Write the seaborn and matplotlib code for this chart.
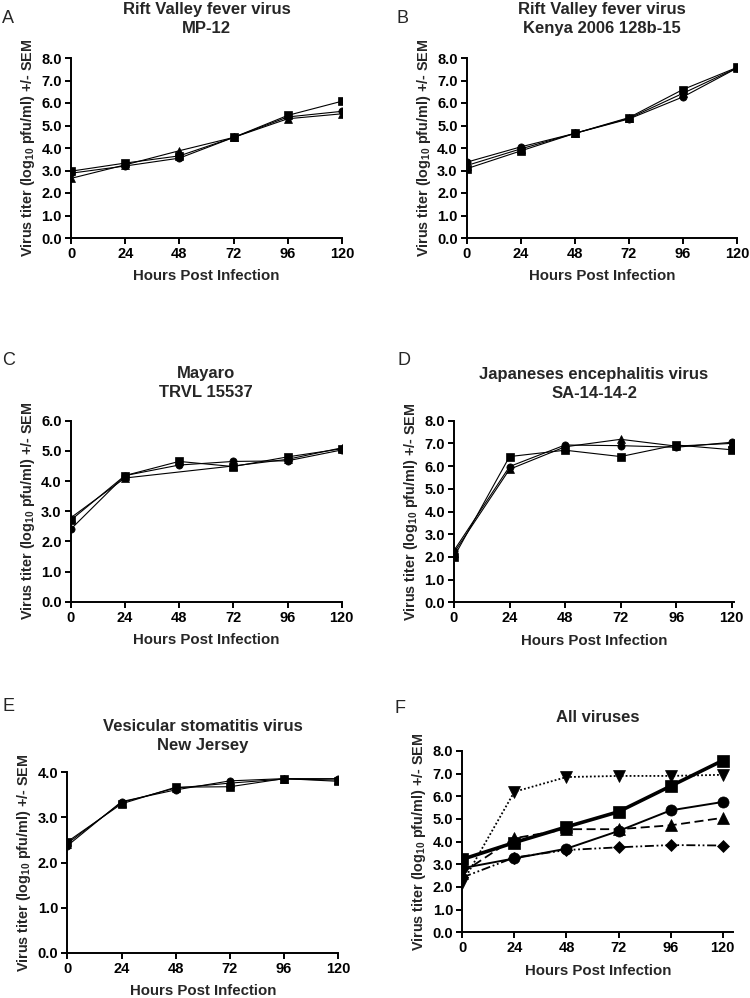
import numpy as np
import pandas as pd
import matplotlib
matplotlib.use("Agg")
import matplotlib.pyplot as plt
import seaborn as sns

hours = [0, 24, 48, 72, 96, 120]

# A - RVFV MP-12 (three replicate lines)
mp12_circle = [2.88, 3.20, 3.55, 4.47, 5.38, 5.63]
mp12_square = [2.97, 3.33, 3.65, 4.47, 5.45, 6.08]
mp12_triangle = [2.65, 3.25, 3.88, 4.47, 5.30, 5.52]

# B - RVFV Kenya 2006 128b-15
kenya_circle = [3.37, 4.05, 4.65, 5.29, 6.27, 7.55]
kenya_square = [3.08, 3.87, 4.65, 5.35, 6.60, 7.58]
kenya_triangle = [3.22, 3.96, 4.65, 5.32, 6.43, 7.56]

# C - Mayaro TRVL 15537 (triangle has no 48 h point)
mayaro_circle = [2.40, 4.18, 4.53, 4.65, 4.67, 5.03]
mayaro_square = [2.70, 4.18, 4.65, 4.48, 4.80, 5.07]
mayaro_triangle = [2.78, 4.10, np.nan, 4.50, 4.72, 5.10]

# D - JEV SA-14-14-2
jev_circle = [2.28, 5.98, 6.93, 6.90, 6.83, 7.05]
jev_square = [2.00, 6.42, 6.70, 6.42, 6.93, 6.72]
jev_triangle = [2.18, 5.86, 6.85, 7.18, 6.88, 7.00]

# E - VSV New Jersey
vsv_circle = [2.37, 3.35, 3.61, 3.81, 3.86, 3.86]
vsv_square = [2.46, 3.30, 3.67, 3.68, 3.86, 3.80]
vsv_triangle = [2.42, 3.33, 3.65, 3.76, 3.85, 3.83]

# F - mean of each virus
all_mp12 = [2.83, 3.26, 3.69, 4.47, 5.38, 5.75]
all_kenya = [3.22, 3.96, 4.65, 5.32, 6.45, 7.58]
all_mayaro = [2.63, 4.15, 4.55, 4.55, 4.72, 5.05]
all_jev = [2.17, 6.20, 6.85, 6.90, 6.90, 6.95]
all_vsv = [2.42, 3.30, 3.63, 3.75, 3.85, 3.83]

sns.set_theme(style="ticks")
plt.rcParams["font.family"] = ["Liberation Sans", "DejaVu Sans"]
plt.rcParams["font.weight"] = "bold"
plt.rcParams["mathtext.fontset"] = "custom"
plt.rcParams["mathtext.rm"] = "Liberation Sans:bold"
plt.rcParams["mathtext.bf"] = "Liberation Sans:bold"

YLABEL = r"Virus titer (log$_{\mathbf{10}}$ pfu/ml) +/- SEM"

W, H = 750, 998
fig = plt.figure(figsize=(W / 100, H / 100), dpi=100)


def px_axes(left, top, right, bottom):
    return fig.add_axes([left / W, 1 - bottom / H, (right - left) / W, (bottom - top) / H])


def draw_series(ax, vals, marker, ms=5.2, lw=0.8, ls="-"):
    df = pd.DataFrame({"h": hours, "v": vals}).dropna()
    sns.lineplot(data=df, x="h", y="v", ax=ax, color="black", marker=marker,
                 markersize=ms, markeredgecolor="black", markeredgewidth=0.5,
                 linewidth=lw, linestyle=ls, legend=False)


def style_axes(ax, title, ymax, xmax=120, pad=17):
    ax.set_xlim(0, xmax)
    ax.set_ylim(0, ymax)
    ax.set_xticks(hours)
    ax.set_yticks(np.arange(0, ymax + 0.01, 1.0))
    ax.set_yticklabels([f"{v:.1f}" for v in np.arange(0, ymax + 0.01, 1.0)])
    ax.tick_params(axis="both", direction="out", length=4, width=1.4,
                   labelsize=10.5, pad=2.5, colors="black")
    for lab in ax.get_xticklabels() + ax.get_yticklabels():
        lab.set_fontweight("bold")
    for s in ["top", "right"]:
        ax.spines[s].set_visible(False)
    for s in ["left", "bottom"]:
        ax.spines[s].set_linewidth(1.4)
        ax.spines[s].set_color("black")
    ax.set_xlabel("Hours Post Infection", fontsize=10.8, fontweight="bold", labelpad=6)
    ax.set_ylabel(YLABEL, fontsize=10.4, fontweight="bold", labelpad=3)
    ax.set_title(title, fontsize=12, fontweight="bold", pad=pad, linespacing=1.35)


panels = [
    ("A", (71, 58, 342, 238), "Rift Valley fever virus\nMP-12", 8,
     [mp12_circle, mp12_triangle, mp12_square], (2, 10), 18),
    ("B", (466.7, 58, 737, 238), "Rift Valley fever virus\nKenya 2006 128b-15", 8,
     [kenya_circle, kenya_triangle, kenya_square], (397, 10), 18),
    ("C", (70.7, 420.7, 341.7, 601.7), "Mayaro\nTRVL 15537", 6,
     [mayaro_circle, mayaro_triangle, mayaro_square], (2, 352), 17),
    ("D", (454, 420.7, 734, 602.3), "Japaneses encephalitis virus\nSA-14-14-2", 8,
     [jev_circle, jev_triangle, jev_square], (398, 352), 16),
    ("E", (67.3, 772.3, 338.3, 952.7), "Vesicular stomatitis virus\nNew Jersey", 4,
     [vsv_circle, vsv_triangle, vsv_square], (2, 698), 16),
]

for letter, box, title, ymax, series, lpos, pad in panels:
    ax = px_axes(*box)
    xmax = 121 if letter == "D" else 120
    for vals, mk in zip(series, ["o", "^", "s"]):
        draw_series(ax, vals, mk)
    style_axes(ax, title, ymax, xmax=xmax, pad=pad)
    fig.text(lpos[0] / W, 1 - lpos[1] / H, letter, fontsize=13,
             fontweight="normal", va="top", ha="left")

# F - all viruses
axf = px_axes(462.3, 751, 733.3, 932.3)
draw_series(axf, all_vsv, "D", ms=6, lw=1.3, ls=(0, (5, 1.5, 1, 1.5, 1, 1.5)))
draw_series(axf, all_jev, "v", ms=8, lw=1.3, ls=(0, (1, 1.2)))
draw_series(axf, all_mayaro, "^", ms=8, lw=1.3, ls=(0, (5, 2.5)))
draw_series(axf, all_mp12, "o", ms=8, lw=1.4)
draw_series(axf, all_kenya, "s", ms=8, lw=2.6)
style_axes(axf, "All viruses", 8, xmax=124.9, pad=21)
fig.text(395 / W, 1 - 700 / H, "F", fontsize=13, fontweight="normal", va="top", ha="left")

fig.savefig("out.png", dpi=100)
